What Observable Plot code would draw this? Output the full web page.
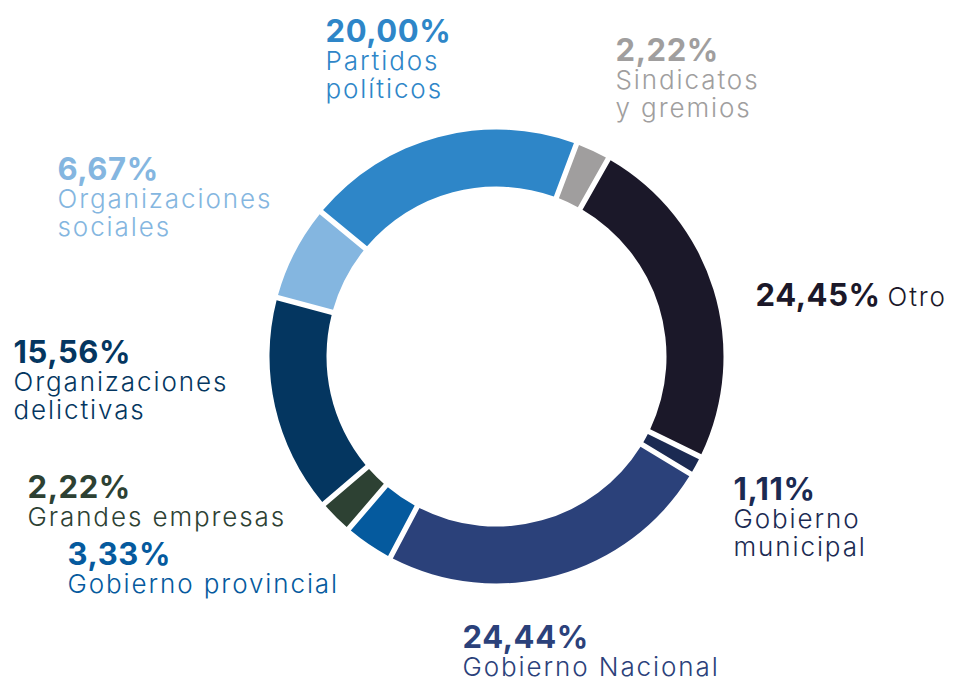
<!DOCTYPE html>
<html><head><meta charset="utf-8">
<script src="https://cdn.jsdelivr.net/npm/d3@7"></script>
<script src="https://cdn.jsdelivr.net/npm/@observablehq/plot@0.6"></script>
<style>
html,body{margin:0;padding:0;background:#fff}
#chart svg{display:block}
#chart .pct text{letter-spacing:0.6px}
#chart .name text{letter-spacing:1.9px}
</style>
</head><body><div id="chart"></div>
<script>
// ---- data ----
const categories = ["Partidos políticos","Sindicatos y gremios","Otro","Gobierno municipal","Gobierno Nacional","Gobierno provincial","Grandes empresas","Organizaciones delictivas","Organizaciones sociales"];
const values = [20.00, 2.22, 24.45, 1.11, 24.44, 3.33, 2.22, 15.56, 6.67];
const nameLines = [["Partidos","políticos"],["Sindicatos","y gremios"],["Otro"],["Gobierno","municipal"],["Gobierno Nacional"],["Gobierno provincial"],["Grandes empresas"],["Organizaciones","delictivas"],["Organizaciones","sociales"]];
const colors = ["#2E86C8","#A09E9E","#1B1829","#1B2A52","#2B417A","#055A9E","#2D4133","#043660","#84B6E0"];

// ---- layout (positions only) ----
const W = 954, H = 680;
const center = {x: 496.5, y: 356.5}, rInner = 170, rOuter = 227;
const startDeg = -50.5;
const labelPos = {
  "Partidos políticos": {x: 325, y: 41},
  "Sindicatos y gremios": {x: 615, y: 60},
  "Otro": {x: 755, y: 305, nx: 887},
  "Gobierno municipal": {x: 733, y: 499},
  "Gobierno Nacional": {x: 462, y: 647},
  "Gobierno provincial": {x: 67, y: 564},
  "Grandes empresas": {x: 27, y: 497},
  "Organizaciones delictivas": {x: 13, y: 362},
  "Organizaciones sociales": {x: 57, y: 179}
};
const lineStep = 28;
const FONT = "Inter, 'Noto Sans', sans-serif";

const fmtPct = v => d3.format(".2f")(v).replace(".", ",") + "%";
const slices = categories.map((c, i) => ({cat: c, value: values[i]}));

const pctRows = categories.map((c, i) => ({cat: c, text: fmtPct(values[i]), x: labelPos[c].x, y: labelPos[c].y}));
const nameRows = categories.flatMap((c, i) => {
  const p = labelPos[c];
  if (p.nx != null) return [{cat: c, text: nameLines[i][0], x: p.nx, y: p.y}];
  return nameLines[i].map((t, k) => ({cat: c, text: t, x: p.x, y: p.y + lineStep * (k + 1)}));
});

function donut(index, scales, vals, dimensions) {
  const sx = scales.x ?? (v => v), sy = scales.y ?? (v => v);
  const col = scales.color;
  const a0 = startDeg * Math.PI / 180;
  const pie = d3.pie().sort(null).value(d => d.value).startAngle(a0).endAngle(a0 + 2 * Math.PI).padAngle(0.019);
  const arc = d3.arc().innerRadius(rInner).outerRadius(rOuter);
  const g = d3.create("svg:g").attr("transform", `translate(${sx(center.x)},${sy(center.y)})`);
  g.selectAll("path").data(pie(slices)).join("path")
    .attr("d", arc)
    .attr("fill", d => col(d.data.cat));
  return g.node();
}

const chart = Plot.plot({
  width: W, height: H,
  margin: 0,
  x: {type: "identity", axis: null},
  y: {type: "identity", axis: null},
  color: {domain: categories, range: colors},
  style: {fontFamily: FONT, background: "#fff"},
  marks: [
    donut,
    Plot.text(pctRows, {x: "x", y: "y", text: "text", fill: "cat", textAnchor: "start", lineAnchor: "bottom", fontSize: 31, fontWeight: 700, className: "pct"}),
    Plot.text(nameRows, {x: "x", y: "y", text: "text", fill: "cat", textAnchor: "start", lineAnchor: "bottom", fontSize: 26, fontWeight: 300, className: "name"})
  ]
});
document.getElementById("chart").appendChild(chart);
</script>
</body></html>
